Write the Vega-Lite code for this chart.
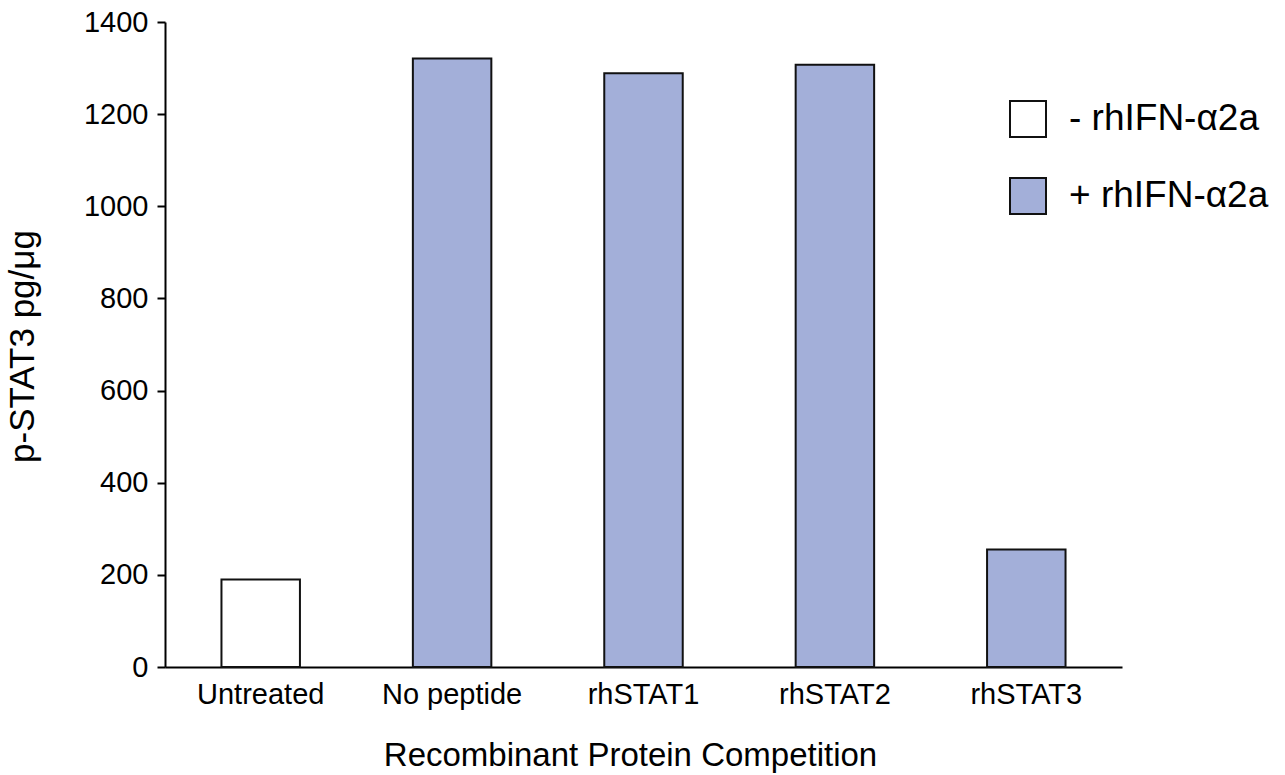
{
  "$schema": "https://vega.github.io/schema/vega-lite/v6.json",
  "autosize": {"type": "none"},
  "padding": {"left": 165, "top": 22, "right": 163, "bottom": 108},
  "width": 957,
  "height": 645,
  "background": "white",
  "config": {
    "font": "Liberation Sans",
    "view": {"stroke": null},
    "axis": {"grid": false, "domainColor": "black", "domainWidth": 2, "tickColor": "black", "tickWidth": 2, "labelColor": "black", "titleColor": "black", "labelFont": "Liberation Sans", "titleFont": "Liberation Sans", "titleFontWeight": "normal"}
  },
  "data": {
    "values": [
      {"category": "Untreated", "treatment": "- rhIFN-α2a", "value": 190},
      {"category": "No peptide", "treatment": "+ rhIFN-α2a", "value": 1321},
      {"category": "rhSTAT1", "treatment": "+ rhIFN-α2a", "value": 1289},
      {"category": "rhSTAT2", "treatment": "+ rhIFN-α2a", "value": 1307},
      {"category": "rhSTAT3", "treatment": "+ rhIFN-α2a", "value": 255}
    ]
  },
  "mark": {"type": "bar", "stroke": "#111111", "strokeWidth": 2},
  "encoding": {
    "x": {
      "field": "category",
      "type": "nominal",
      "sort": null,
      "scale": {"paddingInner": 0.59, "paddingOuter": 0.295},
      "axis": {
        "title": "Recombinant Protein Competition",
        "titleFontSize": 33,
        "titleX": 465,
        "titleY": 98,
        "titleBaseline": "alphabetic",
        "titleAnchor": null,
        "labelAngle": 0,
        "labelFontSize": 29,
        "labelPadding": 13,
        "ticks": false,
        "tickSize": 0
      }
    },
    "y": {
      "field": "value",
      "type": "quantitative",
      "scale": {"domain": [0, 1400], "nice": false},
      "axis": {
        "title": "p-STAT3 pg/μg",
        "titleFontSize": 35,
        "titleX": -132,
        "titleY": 324,
        "titleBaseline": "alphabetic",
        "titleAngle": -90,
        "titleAlign": "center",
        "values": [0, 200, 400, 600, 800, 1000, 1200, 1400],
        "format": "d",
        "labelFontSize": 29,
        "labelPadding": 9,
        "tickSize": 8
      }
    },
    "fill": {
      "field": "treatment",
      "type": "nominal",
      "scale": {"domain": ["- rhIFN-α2a", "+ rhIFN-α2a"], "range": ["#ffffff", "#a3afd9"]},
      "legend": {
        "title": null,
        "orient": "none",
        "legendX": 844,
        "legendY": 78,
        "padding": 0,
        "symbolType": "square",
        "symbolSize": 1296,
        "symbolStrokeColor": "#111111",
        "symbolStrokeWidth": 2,
        "labelFontSize": 37,
        "labelFont": "Liberation Sans",
        "labelColor": "black",
        "labelOffset": 22,
        "rowPadding": 33,
        "labelLimit": 400
      }
    }
  }
}
